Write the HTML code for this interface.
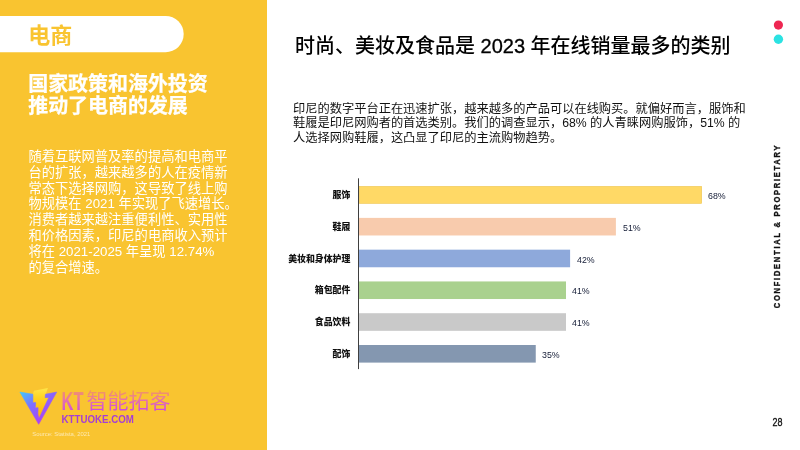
<!DOCTYPE html>
<html lang="zh">
<head>
<meta charset="utf-8">
<title>电商</title>
<style>
html,body{margin:0;padding:0;}
body{width:800px;height:450px;position:relative;overflow:hidden;background:#fff;
 font-family:"Liberation Sans","Noto Sans CJK SC",sans-serif;color:#000;}
.abs{position:absolute;white-space:nowrap;}
#left{position:absolute;left:0;top:0;width:267px;height:450px;background:#F9C430;}
#tag{left:28.2px;top:22.5px;font-size:22px;line-height:26px;font-weight:700;color:#F9C430;}
#h1{left:28.2px;top:74.3px;font-size:19.97px;line-height:21.3px;-webkit-text-stroke:0.25px #fff;font-weight:700;color:#fff;}
#body{left:28.5px;top:149px;font-size:13.27px;line-height:15.8px;font-weight:400;color:#fff;}
#title{left:295px;top:31px;font-size:20px;line-height:30px;font-weight:500;color:#000;}
#para{left:293px;top:101.8px;font-size:12.24px;line-height:14.45px;font-weight:400;color:#111;}
.lab{position:absolute;width:200px;left:150.3px;text-align:right;font-size:8.9px;line-height:12px;font-weight:900;color:#111;white-space:nowrap;}
.val{position:absolute;font-size:9.8px;line-height:12px;color:#141c36;white-space:nowrap;margin-top:1.1px;transform:scaleX(0.9);transform-origin:0 50%;}
#conf{position:absolute;left:778px;top:226.2px;width:0;height:0;}
#conf span{position:absolute;display:block;white-space:nowrap;transform:translate(-50%,-50%) rotate(-90deg) scaleY(1.13);font-size:7.5px;line-height:10px;font-weight:700;letter-spacing:1.76px;color:#111;-webkit-text-stroke:0.3px #111;}
.n{-webkit-text-stroke:0.3px #000;}
#src{left:32.3px;top:431.3px;font-size:5.9px;line-height:7px;color:rgba(255,255,255,.62);}
</style>
</head>
<body>
<div id="left"></div>
<svg class="abs" style="left:0;top:0;" width="200" height="60" viewBox="0 0 200 60"><path d="M0 15.9 H165.55 A18.15 18.15 0 0 1 165.55 52.2 H0 Z" fill="#fff"/></svg>
<div id="tag" class="abs">电商</div>
<div id="h1" class="abs">国家政策和海外投资<br>推动了电商的发展</div>
<div id="body" class="abs">随着互联网普及率的提高和电商平<br>台的扩张，越来越多的人在疫情新<br>常态下选择网购，这导致了线上购<br>物规模在 2021 年实现了飞速增长。<br>消费者越来越注重便利性、实用性<br>和价格因素，印尼的电商收入预计<br>将在 2021-2025 年呈现 12.74%<br>的复合增速。</div>

<div id="title" class="abs">时尚、美妆及食品是 <span class="n">2023</span> 年在线销量最多的类别</div>
<div id="para" class="abs">印尼的数字平台正在迅速扩张，越来越多的产品可以在线购买。就偏好而言，服饰和<br>鞋履是印尼网购者的首选类别。我们的调查显示，68% 的人青睐网购服饰，51% 的<br>人选择网购鞋履，这凸显了印尼的主流购物趋势。</div>

<svg class="abs" style="left:0;top:0;" width="800" height="450" viewBox="0 0 800 450">
<rect x="359.3" y="186.40" width="342.40" height="17" fill="#FFD966" stroke="#EFC550" stroke-width="0.6"/>
<rect x="359" y="217.88" width="256.90" height="17.6" fill="#F8CBAD"/>
<rect x="359" y="249.66" width="211.10" height="17.6" fill="#8EA9DB"/>
<rect x="359" y="281.44" width="207.00" height="17.6" fill="#A9D18E"/>
<rect x="359" y="313.22" width="207.00" height="17.6" fill="#C9C9C9"/>
<rect x="359" y="345.00" width="176.75" height="17.6" fill="#8497B0"/>
<rect x="358.1" y="178.3" width="0.9" height="190.8" fill="#2a2a2a"/>
</svg>
<div class="lab" style="top:189px;">服饰</div>
<div class="lab" style="top:220.75px;">鞋履</div>
<div class="lab" style="top:252.5px;">美妆和身体护理</div>
<div class="lab" style="top:284.25px;">箱包配件</div>
<div class="lab" style="top:316px;">食品饮料</div>
<div class="lab" style="top:347.75px;">配饰</div>

<div class="val" style="left:708.4px;top:189px;">68%</div>
<div class="val" style="left:622.6px;top:220.75px;">51%</div>
<div class="val" style="left:577px;top:252.5px;">42%</div>
<div class="val" style="left:572px;top:284.25px;">41%</div>
<div class="val" style="left:572px;top:316px;">41%</div>
<div class="val" style="left:541.8px;top:347.75px;">35%</div>

<svg class="abs" style="left:760px;top:10px;" width="40" height="40" viewBox="760 10 40 40"><circle cx="778.4" cy="25.1" r="4.6" fill="#EE2752"/><circle cx="778.4" cy="39.3" r="4.7" fill="#2BE2E2"/></svg>
<div id="conf"><span>CONFIDENTIAL &amp; PROPRIETARY</span></div>
<svg class="abs" style="left:760px;top:405px;" width="40" height="30" viewBox="760 405 40 30"><text x="772.6" y="426" font-size="10.5" textLength="10" lengthAdjust="spacingAndGlyphs" fill="#111" stroke="#111" stroke-width="0.3" font-family="'Liberation Sans',sans-serif">28</text></svg>

<svg class="abs" style="left:0;top:380px;" width="200" height="70" viewBox="0 380 200 70">
<defs>
<linearGradient id="gv" gradientUnits="userSpaceOnUse" x1="21" y1="391" x2="44" y2="421">
<stop offset="0" stop-color="#3DCBFF"/><stop offset="0.45" stop-color="#7B72FF"/><stop offset="1" stop-color="#B13DF5"/>
</linearGradient>
<linearGradient id="gb" x1="0" y1="0" x2="0" y2="1">
<stop offset="0" stop-color="#FFE64A"/><stop offset="0.35" stop-color="#FFD21E"/><stop offset="1" stop-color="#FFAE08"/>
</linearGradient>
<linearGradient id="gt" x1="0" y1="0" x2="0" y2="1">
<stop offset="0" stop-color="#F5A248"/><stop offset="0.45" stop-color="#E874A6"/><stop offset="1" stop-color="#C745E8"/>
</linearGradient>
</defs>
<path d="M33.9 390.7 L47.9 387.9 L45.3 395.3 L45.1 397.7 L48.8 397.4 L38.9 418.6 L37.9 414 L38.1 407.7 L35.3 407.9 L35.7 402.6 L32.9 402.8 L32.9 394.2 Z" fill="url(#gb)"/>
<path d="M19.9 392.1 L32.9 394.2 L32.9 402.8 L35.7 402.6 L35.3 407.9 L38.1 407.7 L37.9 414 L38.9 418.6 L48.8 397.4 L45.1 397.7 L45.5 394.2 L56.7 392.1 L38.7 424.3 Z" fill="url(#gv)" stroke="url(#gv)" stroke-width="0.6" stroke-linejoin="round"/>
<text x="61.6" y="409.75" font-size="25.2" font-weight="700" fill="url(#gt)" textLength="22" lengthAdjust="spacingAndGlyphs" font-family="'Liberation Sans',sans-serif">KT</text>
<text x="86.6" y="407.9" font-size="21" font-weight="400" fill="url(#gt)" font-family="'Liberation Sans','Noto Sans CJK SC',sans-serif">智能拓客</text>
<text x="61.5" y="422.5" font-size="11.5" font-weight="700" fill="#A43DD6" textLength="72.3" lengthAdjust="spacingAndGlyphs" font-family="'Liberation Sans',sans-serif">KTTUOKE.COM</text>
</svg>
<div id="src" class="abs">Source: Statista, 2021</div>
</body>
</html>
